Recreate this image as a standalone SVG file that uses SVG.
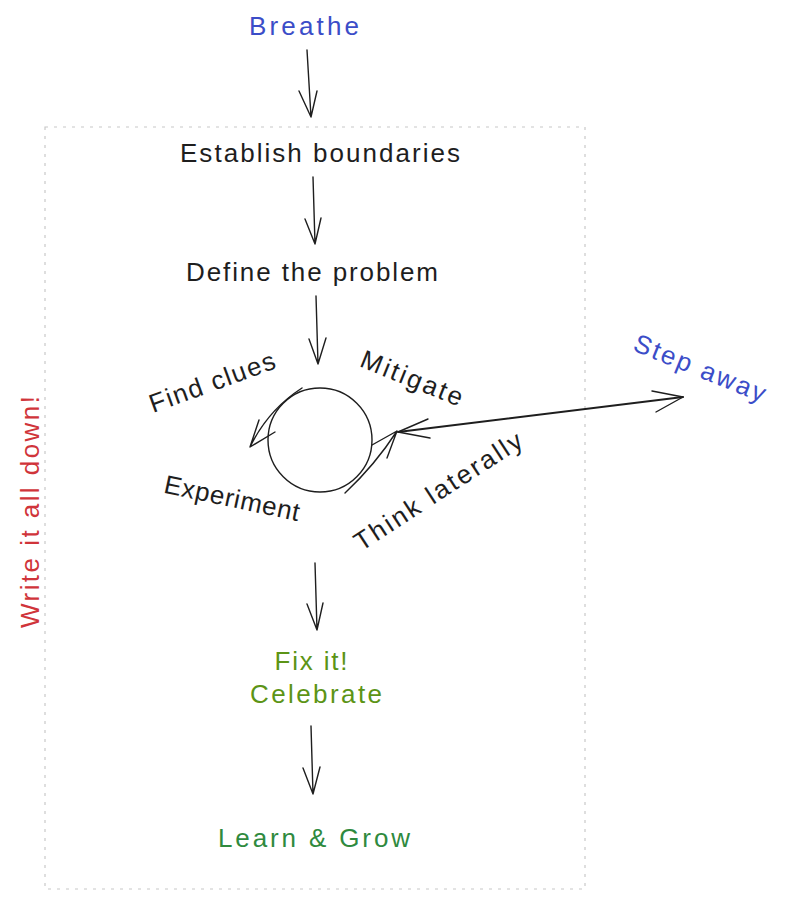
<svg xmlns="http://www.w3.org/2000/svg" width="786" height="899" viewBox="0 0 786 899">
<style>
  text { font-family: "Liberation Sans", "DejaVu Sans", sans-serif; font-size: 26px; text-anchor: middle; dominant-baseline: central; }
  .blk { fill: #1e1e1e; }
  .blue { fill: #3b4dc8; }
  .red { fill: #d0343a; }
  .olive { fill: #5c9416; }
  .green { fill: #2f8a3e; }
  .ln { fill: none; stroke: #1e1e1e; stroke-width: 1.4; stroke-linecap: round; stroke-linejoin: round; }
  .frame { fill: none; stroke: #c8c8c8; stroke-width: 1.2; stroke-dasharray: 3 6; }
</style>
<rect width="786" height="899" fill="#ffffff"/>
<rect class="frame" x="45" y="127" width="540" height="762"/>

<g id="breathe"><text class="blue" x="304" y="26" textLength="110">Breathe</text></g>
<g id="establish"><text class="blk" x="320" y="153" textLength="280">Establish boundaries</text></g>
<g id="define"><text class="blk" x="312" y="272" textLength="252">Define the problem</text></g>
<g id="cycle"><circle class="ln" cx="320" cy="440" r="52"/></g>
<g id="findclues"><text class="blk" transform="translate(212,382) rotate(-20)" textLength="132">Find clues</text></g>
<g id="mitigate"><text class="blk" transform="translate(412,378) rotate(22)" textLength="108">Mitigate</text></g>
<g id="experiment"><text class="blk" transform="translate(232,498) rotate(12)" textLength="138">Experiment</text></g>
<g id="thinklaterally"><text class="blk" transform="translate(438,491) rotate(-33)" textLength="195">Think laterally</text></g>
<g id="stepaway"><text class="blue" transform="translate(700,368) rotate(22)" textLength="140">Step away</text></g>
<g id="writeitdown"><text class="red" transform="translate(30,512) rotate(-90)" textLength="232">Write it all down!</text></g>
<g id="fixit"><text class="olive" x="311" y="661" textLength="73">Fix it!</text><text class="olive" x="316" y="694" textLength="132">Celebrate</text></g>
<g id="learn"><text class="green" x="314" y="838" textLength="192">Learn &amp; Grow</text></g>

<g id="connectors">
  <path class="ln" d="M307 50 L311 117 M299 91 L311 117 L317 91"/>
  <path class="ln" d="M313 177 L315 244 M305 219 L315 244 L321 218"/>
  <path class="ln" d="M316 296 L318 364 M309 339 L318 364 L326 338"/>
  <path class="ln" d="M302 388 Q268 410 250 447 M259 420 L250 447 L275 432"/>
  <path class="ln" d="M345 493 Q375 465 397 431 M372 445 L397 431 L387 458"/>
  <path class="ln" d="M398 432 L683 397" style="stroke-width:2"/>
  <path class="ln" d="M428 419 L398 432 L430 438 M652 391 L683 397 L656 412"/>
  <path class="ln" d="M315 563 L317 630 M307 604 L317 630 L323 603"/>
  <path class="ln" d="M311 726 L313 794 M303 768 L313 794 L320 767"/>
</g>
</svg>
